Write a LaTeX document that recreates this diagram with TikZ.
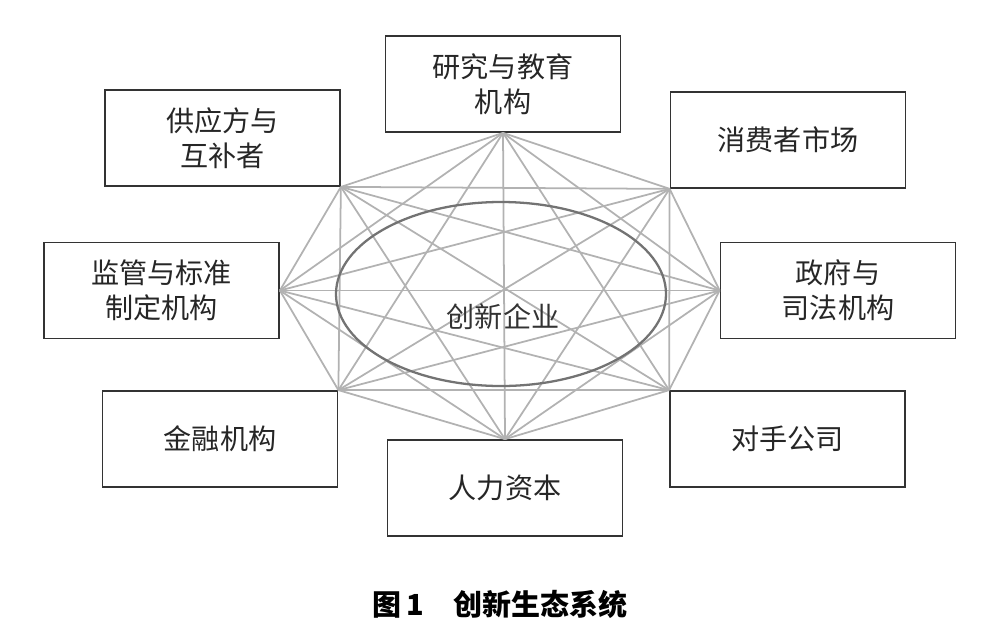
\documentclass[tikz,border=0pt]{standalone}
\usepackage{fontspec}
\setmainfont{Noto Sans CJK SC}
\usepackage{xcolor}
\usetikzlibrary{shapes.geometric}

\definecolor{boxline}{gray}{0.2}
\definecolor{linkgray}{gray}{0.7}
\definecolor{ringgray}{gray}{0.45}

\tikzset{
    actor/.style={draw=boxline, line width=1pt, minimum width=4.7cm, minimum height=1.92cm,
        inner sep=0pt, align=center, text=black!85, font=\fontsize{16}{19.9}\selectfont},
    link/.style={draw=linkgray, line width=1pt},
    ring/.style={draw=ringgray, line width=1.3pt, ellipse, minimum width=6.6cm, minimum height=3.68cm}
}

\begin{document}
\begin{tikzpicture}[x=0.2mm, y=-0.2mm]
    \useasboundingbox (0,0) rectangle (1005,640);
    % Actors around the firm
    \node[actor] (research) at (503,84) {研究与教育\\机构};
    \node[actor] (supplier) at (222.5,138) {供应方与\\互补者};
    \node[actor] (consumer) at (788,140) {消费者市场};
    \node[actor] (regulator) at (161.5,290.5) {监管与标准\\制定机构};
    \node[actor] (government) at (838,290.5) {政府与\\司法机构};
    \node[actor] (finance) at (220,439) {金融机构};
    \node[actor] (rival) at (787.5,439) {对手公司};
    \node[actor] (talent) at (505,488) {人力资本};
    % Contact points
    \coordinate (p1) at (research.south);
    \coordinate (p2) at (consumer.south west);
    \coordinate (p3) at (government.west);
    \coordinate (p4) at (rival.north west);
    \coordinate (p5) at (talent.north);
    \coordinate (p6) at (finance.north east);
    \coordinate (p7) at (regulator.east);
    \coordinate (p8) at (supplier.south east);
    % Every actor linked to every other
    \foreach \i in {1,...,7}{
        \pgfmathtruncatemacro\k{\i+1}
        \foreach \j in {\k,...,8}{
            \draw[link] (p\i) -- (p\j);
        }
    }
    % Innovating firm
    \node[ring] (firm) at (501,294) {};
    \node[font=\fontsize{16}{19}\selectfont, text=black!80] (firmname) at (503,317) {创新企业};
    % Caption
    \node[font=\fontsize{16.5}{19}\selectfont\bfseries] (caption) at (500,604) {图\,1\hspace{0.6cm}创新生态系统};
\end{tikzpicture}
\end{document}
